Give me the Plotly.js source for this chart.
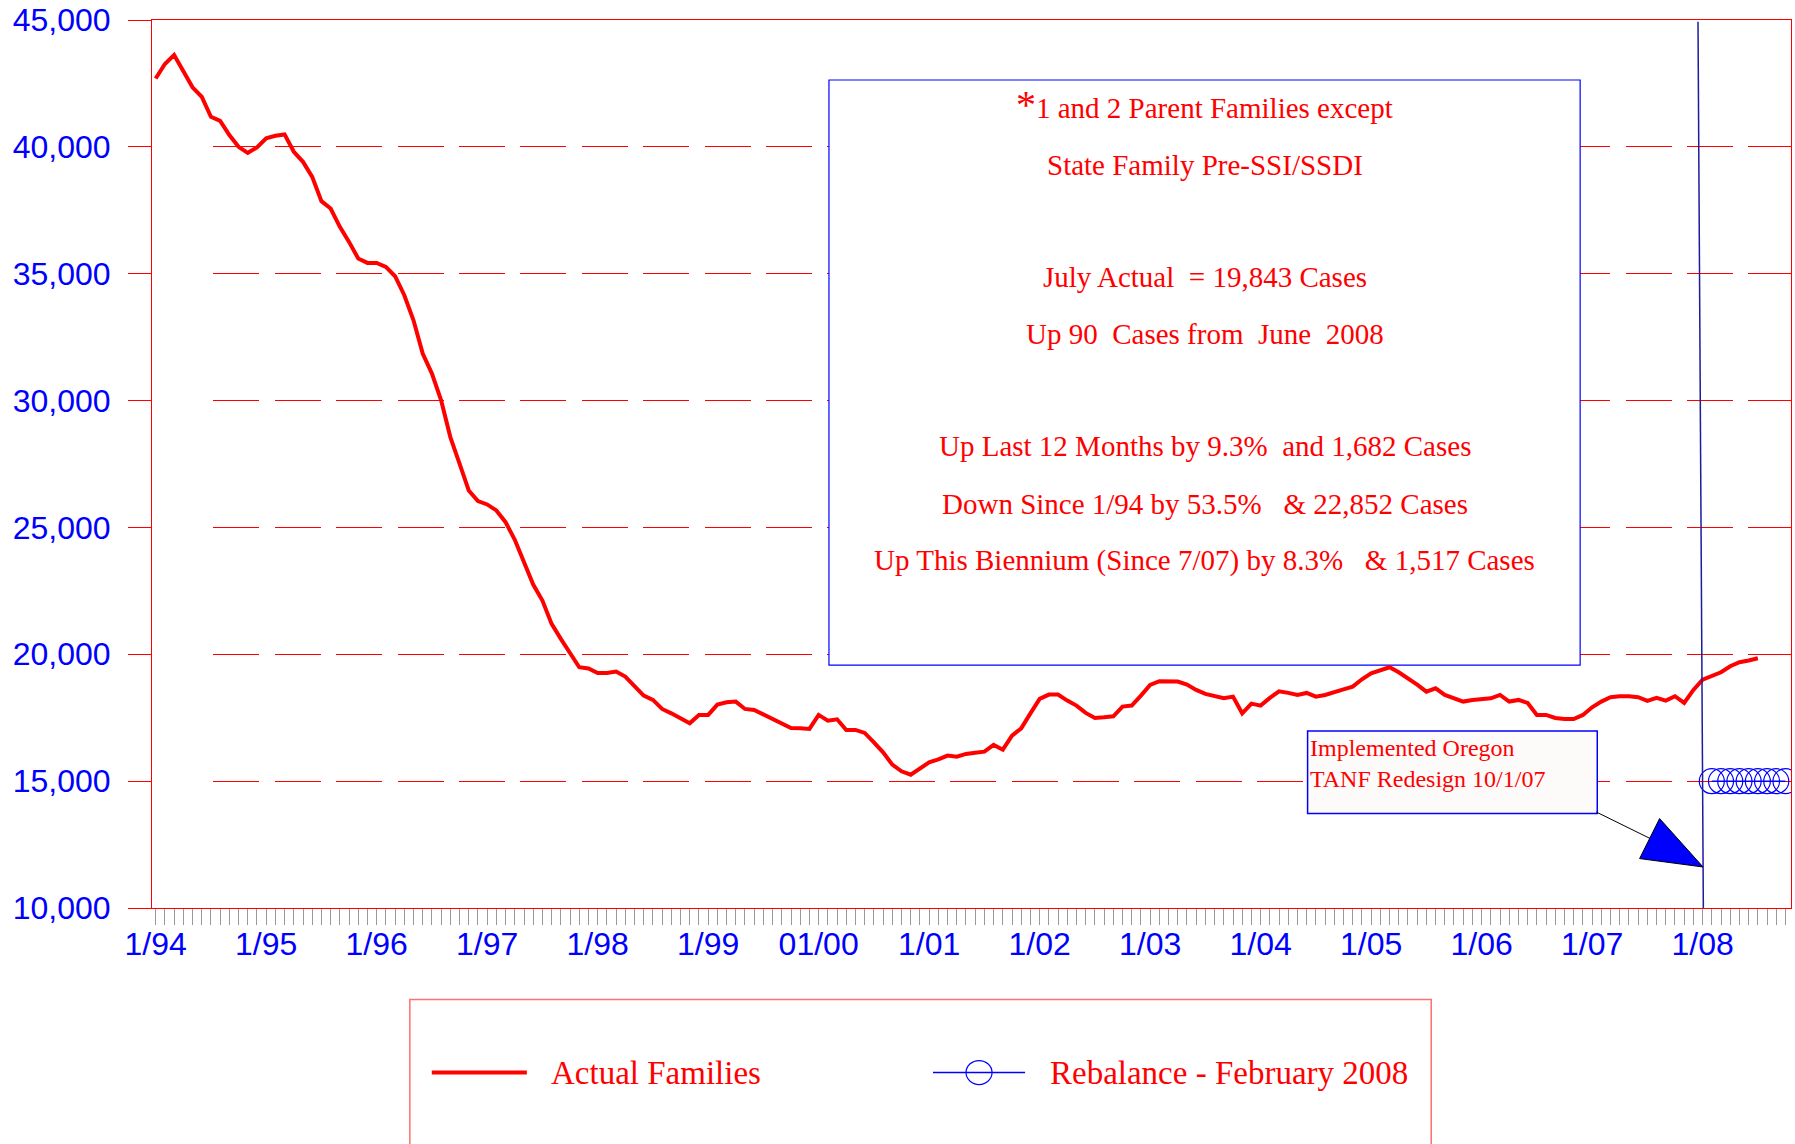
<!DOCTYPE html>
<html>
<head>
<meta charset="utf-8">
<script src="https://cdn.plot.ly/plotly-3.0.1.min.js"></script>
<style>
html,body{margin:0;padding:0;background:#fff;}
#chart{width:1795px;height:1144px;}
</style>
</head>
<body>
<div id="chart"></div>
<script>
// ---------- DATA ----------
// Tick labels for January of each year (month index 0 = 1/94)
const yearLabels = ['1/94','1/95','1/96','1/97','1/98','1/99','01/00','1/01','1/02','1/03','1/04','1/05','1/06','1/07','1/08'];

// Actual Families, monthly, 1/94 .. 7/08
const actualFamilies = [
  42695,43264,43619,43000,42345,41975,41185,41027,40463,40002,39765,39978,   // 1994
  40333,40436,40491,39805,39410,38818,37859,37570,36846,36254,35598,35425,   // 1995
  35425,35268,34900,34151,33165,31851,31063,30010,28562,27512,26458,26037,   // 1996
  25906,25670,25208,24513,23630,22750,22119,21199,20607,20016,19490,19440,   // 1997
  19260,19267,19320,19122,18728,18372,18201,17846,17673,17491,17278,17610,   // 1998
  17610,18017,18109,18136,17846,17806,17622,17451,17278,17097,17081,17057,   // 1999
  17610,17385,17438,17017,17017,16899,16530,16135,15650,15387,15256,15519,   // 2000
  15742,15860,16006,15966,16072,16123,16163,16426,16241,16793,17081,17673,   // 2001
  18241,18411,18411,18175,17977,17689,17491,17517,17556,17938,17977,18372,   // 2002
  18794,18937,18937,18924,18806,18595,18437,18331,18266,18331,17673,18055,   // 2003
  17977,18280,18541,18480,18397,18476,18331,18397,18528,18620,18727,19015,   // 2004
  19252,19385,19488,19291,19070,18806,18528,18660,18397,18266,18136,18201,   // 2005
  18214,18266,18397,18136,18201,18083,17610,17610,17491,17451,17451,17610,   // 2006
  17912,18136,18306,18346,18346,18306,18161,18280,18175,18346,18083,18595,   // 2007
  19001,19159,19291,19527,19685,19753,19843                                 // 2008
];

// Rebalance - February 2008 (starts at 2/08 = month index 169)
const rebalanceStartMonth = 169;
const rebalanceValues = [15000,15000,15000,15000,15000,15000,15000,15000,15000];

const yTickValues = [10000,15000,20000,25000,30000,35000,40000,45000];

const seriesNames = ['Actual Families','Rebalance - February 2008'];

const infoLines = [
  '<span style="font-size:40px">*</span>1 and 2 Parent Families except',
  'State Family Pre-SSI/SSDI',
  'July Actual \u00a0= 19,843 Cases',
  'Up 90 \u00a0Cases from \u00a0June \u00a02008',
  'Up Last 12 Months by 9.3% \u00a0and 1,682 Cases',
  'Down Since 1/94 by 53.5% \u00a0 & 22,852 Cases',
  'Up This Biennium (Since 7/07) by 8.3% \u00a0 & 1,517 Cases'
];
const calloutLines = ['Implemented Oregon','TANF Redesign 10/1/07'];

// ---------- BUILD ----------
const monthIdx = actualFamilies.map((_, i) => i);
const rebalanceIdx = rebalanceValues.map((_, i) => rebalanceStartMonth + i);
const yearTickVals = yearLabels.map((_, i) => i * 12);

const RED = '#ff0000', BLUE = '#0000ff';
const SERIF = '"Times New Roman", "Liberation Serif", serif';
const SANS = 'Arial, "Liberation Sans", sans-serif';

// dashed grid: leading gap then long dashes
const gridDash = (function(){
  const p = ['0px','61.4px'];
  for (let k = 0; k < 32; k++) p.push('46px','15.4px');
  return p.join(',');
})();

const traces = [
  {
    x: monthIdx, y: actualFamilies, name: seriesNames[0],
    type: 'scatter', mode: 'lines',
    line: {color: RED, width: 4},
    showlegend: false, hoverinfo: 'skip'
  },
  {
    x: rebalanceIdx, y: rebalanceValues, name: seriesNames[1],
    type: 'scatter', mode: 'lines+markers',
    line: {color: BLUE, width: 1.5},
    marker: {symbol: 'circle-open', size: 25, color: BLUE, line: {color: BLUE, width: 1.2}},
    showlegend: false, hoverinfo: 'skip'
  }
];

const infoY = [0.9045, 0.8367, 0.7105, 0.6463, 0.5202, 0.4548, 0.3917];
const annotations = infoLines.map((t, k) => ({
  xref: 'paper', yref: 'paper', x: 0.6422, y: infoY[k],
  xanchor: 'center', yanchor: 'middle', showarrow: false,
  text: t, font: {family: SERIF, size: 29, color: RED}
}));
const calloutY = [0.1805, 0.1455];
calloutLines.forEach((t, k) => annotations.push({
  xref: 'paper', yref: 'paper', x: 0.7055, y: calloutY[k],
  xanchor: 'left', yanchor: 'middle', showarrow: false,
  text: t, font: {family: SERIF, size: 24, color: RED}
}));
// custom legend texts
annotations.push({
  xref: 'paper', yref: 'paper', x: 0.2420, y: -0.1853, xanchor: 'left', yanchor: 'middle',
  showarrow: false, text: seriesNames[0], font: {family: SERIF, size: 33, color: RED}
});
annotations.push({
  xref: 'paper', yref: 'paper', x: 0.5466, y: -0.1853, xanchor: 'left', yanchor: 'middle',
  showarrow: false, text: seriesNames[1], font: {family: SERIF, size: 33, color: RED}
});

const shapes = [
  // info box
  {type: 'rect', xref: 'x', yref: 'y', x0: 73.12, x1: 154.7, y0: 19570, y1: 42636,
   fillcolor: '#ffffff', line: {color: BLUE, width: 1.2}, layer: 'between'},
  // callout box
  {type: 'rect', xref: 'x', yref: 'y', x0: 125.1, x1: 156.56, y0: 13722, y1: 16979,
   fillcolor: '#fcfbfa', line: {color: BLUE, width: 1.5}, layer: 'between'},
  // redesign vertical line
  {type: 'line', xref: 'x', yref: 'y', x0: 167.5, x1: 168.08, y0: 44930, y1: 10000,
   line: {color: '#1c1c9c', width: 1.5}, layer: 'above'},
  // arrow shaft
  {type: 'line', xref: 'x', yref: 'y', x0: 156.45, y0: 13785, x1: 162.32, y1: 12736,
   line: {color: '#000000', width: 1}, layer: 'above'},
  // arrow head
  {type: 'path', xref: 'x', yref: 'y',
   path: 'M168.05,11617 L163.33,13525 L161.16,11948 Z',
   fillcolor: BLUE, line: {color: '#000000', width: 1}, layer: 'above'},
  // legend box
  {type: 'rect', xref: 'paper', yref: 'paper', x0: 0.1573, x1: 0.7805, y0: -0.1029, y1: -0.32,
   fillcolor: 'rgba(0,0,0,0)', line: {color: '#ff7070', width: 1.5}},
  // legend line actual
  {type: 'line', xref: 'paper', yref: 'paper', x0: 0.1707, x1: 0.2287, y0: -0.1853, y1: -0.1853,
   line: {color: RED, width: 4}},
  // legend line rebalance
  {type: 'line', xref: 'paper', yref: 'paper', x0: 0.4765, x1: 0.5327, y0: -0.1853, y1: -0.1853,
   line: {color: BLUE, width: 1.5}},
  // legend marker
  {type: 'circle', xref: 'paper', yref: 'paper', xsizemode: 'pixel', ysizemode: 'pixel',
   xanchor: 0.5046, yanchor: -0.1853, x0: -13, x1: 13, y0: -12, y1: 12,
   line: {color: BLUE, width: 1.2}, fillcolor: 'rgba(0,0,0,0)'}
];

const layout = {
  width: 1795, height: 1144,
  margin: {l: 152, r: 4, t: 20, b: 236, pad: 0},
  paper_bgcolor: '#ffffff', plot_bgcolor: '#ffffff',
  showlegend: false,
  xaxis: {
    type: 'linear', range: [-0.4, 177.6], autorange: false,
    showline: true, linecolor: RED, linewidth: 1, mirror: true,
    showgrid: false, zeroline: false,
    tickmode: 'array', tickvals: yearTickVals, ticktext: yearLabels,
    ticks: 'outside', ticklen: 16, tickwidth: 1, tickcolor: '#999999',
    minor: {tickmode: 'linear', tick0: 0, dtick: 1, ticks: 'outside', ticklen: 16, tickwidth: 1, tickcolor: '#999999', showgrid: false},
    tickfont: {family: SANS, size: 32, color: BLUE},
    ticklabelstandoff: -8
  },
  yaxis: {
    type: 'linear', range: [10000, 45000], autorange: false,
    showline: true, linecolor: RED, linewidth: 1, mirror: true,
    zeroline: false,
    tickmode: 'array', tickvals: yTickValues, tickformat: ',',
    ticks: 'outside', ticklen: 23, tickwidth: 1, tickcolor: RED,
    showgrid: true, gridcolor: RED, gridwidth: 1, griddash: gridDash,
    tickfont: {family: SANS, size: 32, color: BLUE},
    ticklabelstandoff: 11
  },
  shapes: shapes,
  annotations: annotations
};

Plotly.newPlot('chart', traces, layout, {displayModeBar: false, staticPlot: true});
</script>
</body>
</html>
